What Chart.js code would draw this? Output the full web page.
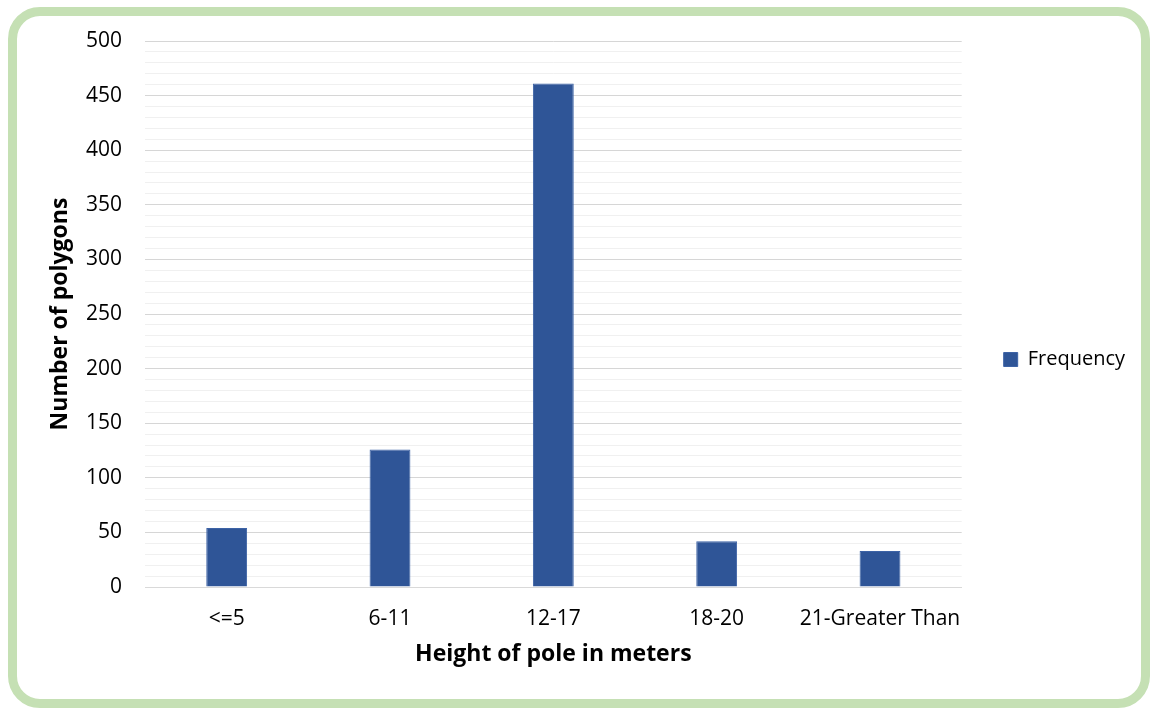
<!DOCTYPE html>
<html>
<head>
<meta charset="utf-8">
<script src="https://cdn.jsdelivr.net/npm/chart.js@4.4.1/dist/chart.umd.min.js"></script>
<style>
  html, body { margin: 0; padding: 0; background: #ffffff; }
  #frame {
    position: absolute; left: 8px; top: 7px;
    width: 1142px; height: 701px; box-sizing: border-box;
    border: 9px solid #c5e0b4; border-radius: 32px;
  }
  #chart { position: absolute; left: 0; top: 0; }
</style>
</head>
<body>
<div id="frame"></div>
<canvas id="chart" width="1150" height="708"></canvas>
<script>
// Pole height classes and polygon counts
const categories = ['<=5', '6-11', '12-17', '18-20', '21-Greater Than'];
const frequency = [54, 126, 461, 42, 33];
const seriesName = 'Frequency';
const xTitle = 'Height of pole in meters';
const yTitle = 'Number of polygons';
const yMin = 0, yMax = 500, yMajorStep = 50, yMinorStep = 10;

const FONT = '"Open Sans", Lato, sans-serif';
const TEXT = '#000000';

new Chart(document.getElementById('chart'), {
  type: 'bar',
  data: {
    labels: categories,
    datasets: [{
      label: seriesName,
      data: frequency,
      backgroundColor: '#2f5597',
      borderColor: '#3d63a6',
      borderWidth: 1,
      categoryPercentage: 0.5,
      barPercentage: 0.5
    }]
  },
  options: {
    responsive: false,
    animation: false,
    layout: { padding: { left: 0, top: 11, right: 15, bottom: 0 } },
    plugins: {
      tooltip: { enabled: false },
      // blank spacer above the plot only, so the legend stays centred on the whole frame
      title: {
        display: true, text: '', fullSize: false,
        font: { size: 10, lineHeight: 1.2 }, padding: { top: 18, bottom: 0 }
      },
      legend: {
        position: 'right',
        labels: {
          boxWidth: 14, boxHeight: 14, padding: 42,
          color: TEXT, font: { family: FONT, size: 20 }
        }
      }
    },
    scales: {
      x: {
        grid: { display: false },
        border: { display: true, color: '#d9d9d9' },
        ticks: { color: TEXT, font: { family: FONT, size: 21 }, padding: 11, maxRotation: 0, autoSkip: false },
        title: { display: true, text: xTitle, color: TEXT, font: { family: FONT, size: 23, weight: 'bold' }, padding: { top: 0, bottom: 40 } },
        afterFit: (s) => { s.height = 121; }
      },
      y: {
        min: yMin, max: yMax,
        border: { display: false },
        grid: {
          drawTicks: false,
          color: (c) => (c.tick && c.tick.value % yMajorStep === 0) ? '#d6d6d6' : '#f0f0f0'
        },
        ticks: {
          stepSize: yMinorStep, autoSkip: false, padding: 23,
          color: TEXT, font: { family: FONT, size: 21 },
          callback: (v) => (v % yMajorStep === 0 ? v : '')
        },
        title: { display: true, text: yTitle, color: TEXT, font: { family: FONT, size: 23, weight: 'bold' }, padding: { top: 47, bottom: 0 } },
        afterFit: (s) => { s.width = 145; }
      }
    }
  }
});
</script>
</body>
</html>
